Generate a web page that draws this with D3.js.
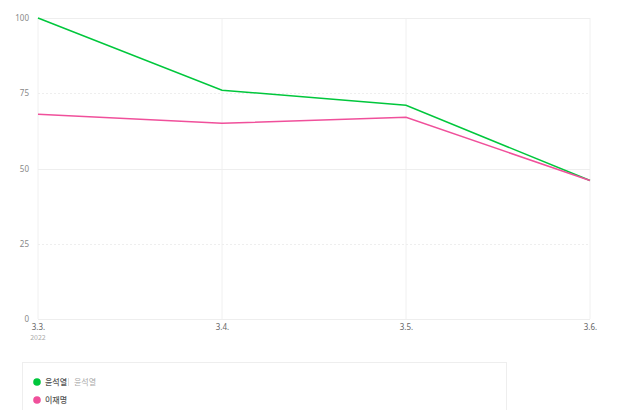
<!DOCTYPE html>
<html><head><meta charset="utf-8">
<script src="https://cdn.jsdelivr.net/npm/d3@7"></script>
<style>
body{margin:0;background:#fff;font-family:"Noto Sans CJK KR","Noto Sans",sans-serif;}
</style></head>
<body><svg id="c" width="640" height="410"></svg>
<script>
const categories = ["3.3.", "3.4.", "3.5.", "3.6."];
const yearLabel = "2022";
const seriesNames = ["윤석열", "이재명"];
const yoon = [100, 76, 71, 46];
const lee = [68, 65, 67, 46];
const yTicks = [0, 25, 50, 75, 100];
const colors = ["#00c73c", "#f0509b"];

const svg = d3.select("#c");
const m = {l: 38, r: 50, t: 18, b: 91};
const W = 640, H = 410;
const x = d3.scalePoint().domain(categories).range([m.l, W - m.r]);
const y = d3.scaleLinear().domain([0, 100]).range([H - m.b, m.t]);

// vertical grid
svg.append("g").selectAll("line").data(categories).join("line")
  .attr("x1", d => x(d)).attr("x2", d => x(d))
  .attr("y1", y(100)).attr("y2", y(0))
  .attr("stroke", "#f0f0f0").attr("stroke-width", 1);
// horizontal grid
svg.append("g").selectAll("line").data(yTicks).join("line")
  .attr("x1", m.l).attr("x2", W - m.r)
  .attr("y1", d => Math.round(y(d)) + 0.5).attr("y2", d => Math.round(y(d)) + 0.5)
  .attr("stroke", "#eeeeee")
  .attr("stroke-dasharray", (d, i) => i % 2 === 1 ? "2,2" : null);

// y axis labels
const yAxis = d3.axisLeft(y).tickValues(yTicks).tickSize(0).tickPadding(9);
const gy = svg.append("g").attr("transform", `translate(${m.l},0)`).call(yAxis);
gy.select(".domain").remove();
gy.selectAll("text").attr("fill", "#888").style("font-size", "8px").style("font-family", "Noto Sans, sans-serif");

// x axis labels
const xAxis = d3.axisBottom(x).tickSize(0).tickPadding(5);
const gx = svg.append("g").attr("transform", `translate(0,${y(0)})`).call(xAxis);
gx.select(".domain").remove();
gx.selectAll("text").attr("fill", "#666").style("font-size", "8px").style("font-family", "Noto Sans, sans-serif");
svg.append("text").attr("x", x(categories[0])).attr("y", y(0) + 21)
  .attr("text-anchor", "middle").attr("fill", "#aaa").style("font-size", "7px").text(yearLabel);

// lines
const line = d3.line().x((d, i) => x(categories[i])).y(d => y(d));
[yoon, lee].forEach((s, i) => {
  svg.append("path").datum(s).attr("d", line)
    .attr("fill", "none").attr("stroke", colors[i]).attr("stroke-width", 1.5);
});

// legend box
svg.append("rect").attr("x", 22.5).attr("y", 362.5).attr("width", 484).attr("height", 60)
  .attr("fill", "#fff").attr("stroke", "#eeeeee");
const lg = svg.append("g");
seriesNames.forEach((n, i) => {
  const yy = 382 + i * 18;
  lg.append("circle").attr("cx", 37).attr("cy", yy).attr("r", 3.8).attr("fill", colors[i]);
  lg.append("text").attr("x", 45).attr("y", yy + 3).attr("fill", "#555")
    .style("font-size", "8px").style("font-weight", "500").text(n);
});
lg.append("line").attr("x1", 68.5).attr("x2", 68.5).attr("y1", 378).attr("y2", 386).attr("stroke", "#ddd");
lg.append("text").attr("x", 74).attr("y", 385).attr("fill", "#aaa").style("font-size", "8px").text(seriesNames[0]);
</script></body></html>
